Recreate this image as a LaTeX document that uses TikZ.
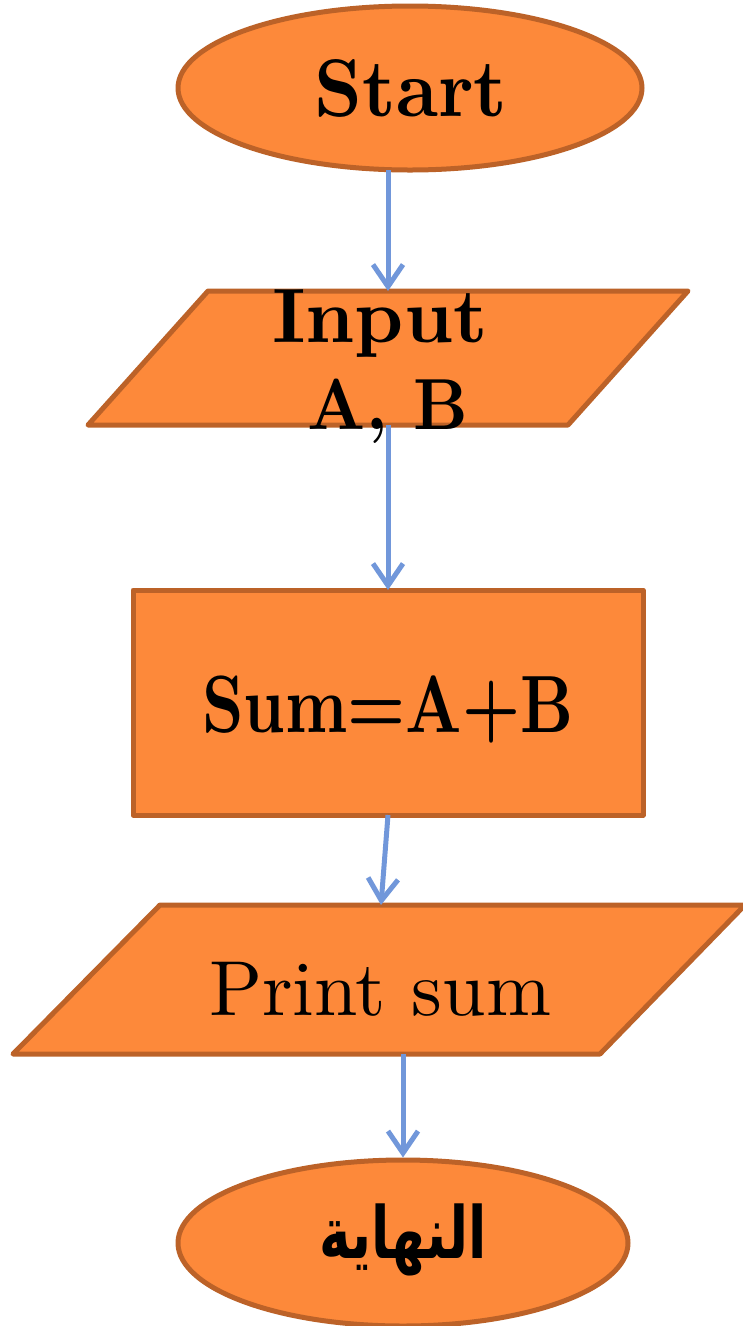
\documentclass[tikz,border=0pt]{standalone}
\usepackage{fontspec}
\usepackage{graphicx}
\setmainfont{lmroman10-regular.otf}[BoldFont=lmroman10-bold.otf]
\usetikzlibrary{shapes.geometric,arrows.meta}
\TeXXeTstate=1
\newfontfamily\arabicfont[Script=Arabic]{DejaVu Sans}
\definecolor{boxfill}{RGB}{253,137,58}
\definecolor{boxline}{RGB}{188,98,40}
\definecolor{arrowblue}{RGB}{113,151,218}
\tikzset{
  shapestyle/.style={fill=boxfill,draw=boxline,line width=5pt,line join=round},
  termbox/.style={shapestyle,ellipse,inner sep=0pt},
  procbox/.style={shapestyle,rectangle,inner sep=0pt},
  txt/.style={inner sep=0pt,align=center,anchor=base},
  conn/.style={draw=arrowblue,line width=5pt,-{Straight Barb[length=22pt,width=30pt,line width=5pt]}}
}
\begin{document}
\begin{tikzpicture}[x=1pt,y=-1pt]
\useasboundingbox (0,0) rectangle (743,1326);
% Start
\node[termbox,minimum width=464pt,minimum height=164pt] (start) at (410,88) {};
\node[txt,font=\fontsize{75}{90}\selectfont\bfseries] (starttxt) at (411,116) {\scalebox{1}[1.09]{Start}};
\coordinate (startbot) at (388,170);
% Input parallelogram
\draw[shapestyle] (208,291) -- (688,291) -- (568,425) -- (88,425) -- cycle;
\coordinate (intop) at (388,291);
\coordinate (inbot) at (388,425);
\node[txt,font=\fontsize{77}{90}\selectfont\bfseries] (intxt1) at (380,342) {Input};
\node[txt,font=\fontsize{67}{90}\selectfont\bfseries] (intxt2) at (388,429) {\scalebox{1}[1.08]{A, B}};
% Process
\node[procbox,minimum width=510pt,minimum height=225pt] (sum) at (388,702.5) {};
\node[txt,font=\fontsize{65}{80}\selectfont\bfseries] (sumtxt) at (388,732) {\scalebox{1}[1.25]{Sum=A+B}};
\coordinate (sumtop) at (388,590);
\coordinate (sumbot) at (388,815);
% Print parallelogram
\draw[shapestyle] (160,905) -- (745,905) -- (600,1054) -- (13,1054) -- cycle;
\coordinate (prtop) at (381,905);
\coordinate (prbot) at (403,1054);
\node[txt,font=\fontsize{78}{100}\selectfont] (prtxt) at (380,1015) {Print sum};
% End
\node[termbox,minimum width=450pt,minimum height=166pt] (stop) at (403,1243) {};
\node[inner sep=0pt,font=\arabicfont\fontsize{72}{86}\selectfont\bfseries] (stoptxt) at (403,1240) {\scalebox{0.74}[1]{\beginR النهاية\endR}};
% Connectors
\draw[conn] (startbot) -- (intop);
\draw[conn] (inbot) -- (sumtop);
\draw[conn] (sumbot) -- (prtop);
\draw[conn] (prbot) -- (stop.north);
\end{tikzpicture}
\end{document}
